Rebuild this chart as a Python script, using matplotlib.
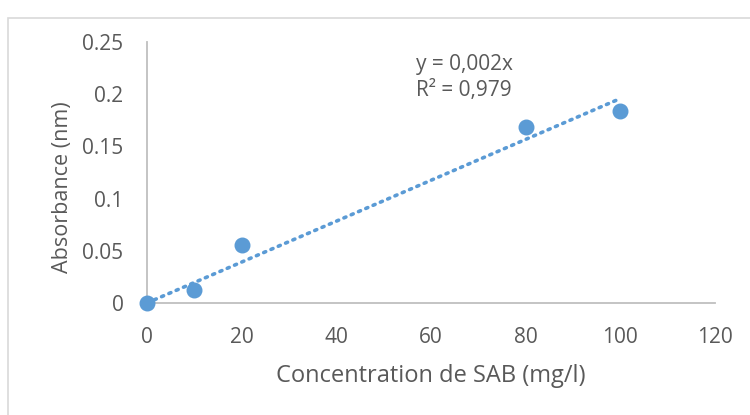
import numpy as np
import matplotlib.pyplot as plt
from matplotlib.patches import Rectangle

# Données
concentration = [0, 10, 20, 80, 100]
absorbance = [0.0, 0.0125, 0.0556, 0.1686, 0.1835]
x_ticks = [0, 20, 40, 60, 80, 100, 120]
y_ticks = [0, 0.05, 0.1, 0.15, 0.2, 0.25]
y_tick_labels = ["0", "0.05", "0.1", "0.15", "0.2", "0.25"]

bleu = "#5B9BD5"
gris_texte = "#595959"
gris_axe = "#BFBFBF"

plt.rcParams["font.family"] = ["Open Sans", "DejaVu Sans"]

fig = plt.figure(figsize=(7.5, 4.15), dpi=100)
ax = fig.add_axes([0.196, 0.27, 0.757, 0.629])

# Cadre extérieur du graphique (style Excel)
fig.patches.append(Rectangle((8 / 750, -0.1), 1.2, 1 - 18 / 415 + 0.1,
                             transform=fig.transFigure, fill=False,
                             edgecolor="#D9D9D9", linewidth=1.2))

# Courbe de tendance linéaire passant par l'origine
x = np.array(concentration, dtype=float)
y = np.array(absorbance)
pente = np.sum(x * y) / np.sum(x * x)
x_tend = np.array([0, 100])
ax.plot(x_tend, pente * x_tend, linestyle=(0, (0.6, 1.6)), color=bleu,
        linewidth=2.6, dash_capstyle="round", zorder=2)

ax.scatter(concentration, absorbance, s=110, color=bleu, zorder=3, clip_on=False)

ax.set_xlim(0, 120)
ax.set_ylim(0, 0.25)
ax.set_xticks(x_ticks)
ax.set_yticks(y_ticks)
ax.set_yticklabels(y_tick_labels)
ax.tick_params(length=0, labelsize=15, labelcolor=gris_texte)
ax.tick_params(axis="x", pad=17)
ax.tick_params(axis="y", pad=17)

for cote in ["top", "right"]:
    ax.spines[cote].set_visible(False)
for cote in ["left", "bottom"]:
    ax.spines[cote].set_color(gris_axe)
    ax.spines[cote].set_linewidth(1.3)

ax.set_xlabel("Concentration de SAB (mg/l)", fontsize=17, color=gris_texte, labelpad=12)
ax.set_ylabel("Absorbance (nm)", fontsize=15.5, color=gris_texte)
ax.yaxis.set_label_coords(-0.13, 0.445)

ax.text(0.473, 0.955, "y = 0,002x\nR² = 0,979", transform=ax.transAxes,
        fontsize=15, color=gris_texte, va="top", ha="left", linespacing=1.35)

fig.savefig("out.png", dpi=100)
